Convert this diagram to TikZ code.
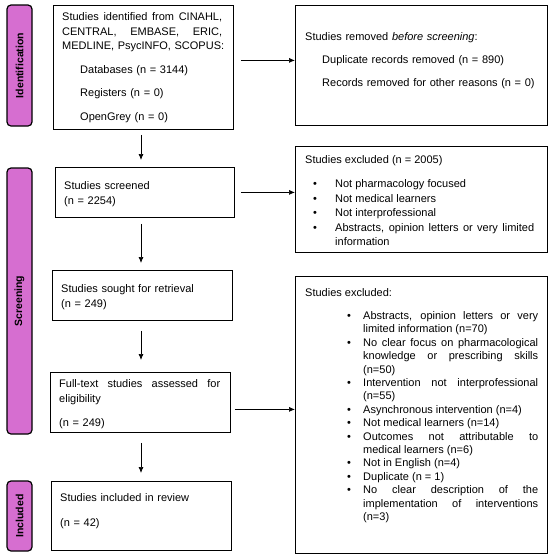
\documentclass[tikz,border=0pt]{standalone}
\usepackage{fontspec}
\setmainfont{Liberation Sans}
\usetikzlibrary{arrows.meta}
\definecolor{phasefill}{RGB}{214,110,208}
\newcommand\pbullet[3]{\par\noindent\hangindent=#2\hangafter=1\hspace*{#1}\makebox[\dimexpr#2-#1\relax][l]{\textbullet}#3}
\hyphenpenalty=10000
\exhyphenpenalty=10000
\begin{document}
\begin{tikzpicture}[x=1pt,y=-1pt,
  box/.style={draw=black, line width=0.8pt, anchor=north west, inner sep=0pt},
  phase/.style={draw=black, line width=1.2pt, fill=phasefill, rounded corners=4pt, inner sep=0pt, rotate=90, font=\bfseries\fontsize{10.5}{12}\selectfont},
  txt/.style={anchor=base west, inner sep=0pt, align=justify, font=\fontsize{11}{14.5}\selectfont},
  arr/.style={-{Latex[length=6pt,width=5pt]}, line width=0.7pt}]
\useasboundingbox (0,0) rectangle (550,558);
\fill[white] (0,0) rectangle (550,558);
\coordinate (axis) at (141,0);
% phase labels
\node[phase, minimum width=121pt, minimum height=25pt] (pid) at (19.5,65.5) {Identification};
\node[phase, minimum width=266pt, minimum height=25pt] (pscr) at (19.5,301) {Screening};
\node[phase, minimum width=70pt, minimum height=25pt] (pinc) at (19.5,516) {Included};
% boxes
\node[box, minimum width=180pt, minimum height=124pt] (b1) at (53,5) {};
\node[txt, text width=162pt, align=left] (b1t) at (62,20.5) {\makebox[160pt][l]{Studies\hfill identified\hfill from\hfill CINAHL,}\\
\makebox[160pt][l]{CENTRAL,\hfill EMBASE,\hfill ERIC,}\\
MEDLINE, PsycINFO, SCOPUS:\\[9pt]
\hspace*{18pt}Databases (n = 3144)\\[9pt]
\hspace*{18pt}Registers (n = 0)\\[9pt]
\hspace*{18pt}OpenGrey (n = 0)};

\node[box, minimum width=252pt, minimum height=120pt] (rem) at (295,5) {};
\node[txt, text width=235pt, align=left] (remt) at (305,40.5) {Studies removed \emph{before screening}:\\[8.5pt]
\hspace*{17pt}Duplicate records removed (n = 890)\\[8.5pt]
\hspace*{17pt}Records removed for other reasons (n = 0)};

\node[box, minimum width=179pt, minimum height=50pt] (scr) at (55,167) {};
\node[txt, text width=160pt, align=left] (scrt) at (64,189.5) {Studies screened\\(n = 2254)};

\node[box, minimum width=252pt, minimum height=106pt] (ex2) at (295,146) {};
\node[txt, text width=229pt] (ex2t) at (305,163.5) {Studies excluded (n = 2005)\par\vspace{9.5pt}
\pbullet{8pt}{30pt}{Not pharmacology focused}
\pbullet{8pt}{30pt}{Not medical learners}
\pbullet{8pt}{30pt}{Not interprofessional}
\pbullet{8pt}{30pt}{Abstracts, opinion letters or very limited information}\par};

\node[box, minimum width=180pt, minimum height=50pt] (sou) at (52,270) {};
\node[txt, text width=160pt, align=left] (sout) at (61,292.5) {Studies sought for retrieval\\(n = 249)};

\node[box, minimum width=180pt, minimum height=60pt] (ful) at (50,372) {};
\node[txt, text width=161pt, align=left] (fult) at (59,387.5) {\makebox[161pt][l]{Full-text\hfill studies\hfill assessed\hfill for}\\
eligibility\\[9.5pt]
(n = 249)};

\node[box, minimum width=252pt, minimum height=277pt] (ex3) at (295,276) {};
\node[txt, text width=233pt, font=\fontsize{11}{13.4}\selectfont] (ex3t) at (305,296.5) {Studies excluded:\par\vspace{9.6pt}
\pbullet{42pt}{58pt}{Abstracts, opinion letters or very \linebreak limited information (n=70)}
\pbullet{42pt}{58pt}{No clear focus on pharmacological \linebreak knowledge or prescribing skills \linebreak (n=50)}
\pbullet{42pt}{58pt}{Intervention not interprofessional \linebreak (n=55)}
\pbullet{42pt}{58pt}{Asynchronous intervention (n=4)}
\pbullet{42pt}{58pt}{Not medical learners (n=14)}
\pbullet{42pt}{58pt}{Outcomes not attributable to \linebreak medical learners (n=6)}
\pbullet{42pt}{58pt}{Not in English (n=4)}
\pbullet{42pt}{58pt}{Duplicate (n = 1)}
\pbullet{42pt}{58pt}{No clear description of the \linebreak implementation of interventions \linebreak (n=3)}\par};

\node[box, minimum width=180pt, minimum height=69pt] (inc) at (51,481) {};
\node[txt, text width=161pt, align=left] (inct) at (60,501.5) {Studies included in review\\[10.5pt](n = 42)};

% connectors
\draw[arr, shorten <=7pt] ([yshift=7pt]b1.east) -- ([yshift=7pt]b1.east -| rem.west);
\draw[arr, shorten <=6pt] (scr.east) -- (scr.east -| ex2.west);
\draw[arr, shorten <=4pt] ([yshift=-7pt]ful.east) -- ([yshift=-7pt]ful.east -| ex3.west);
\draw[arr, shorten <=5pt, shorten >=7pt] (b1.south -| axis) -- (scr.north -| axis);
\draw[arr, shorten <=6pt, shorten >=7pt] (scr.south -| axis) -- (sou.north -| axis);
\draw[arr, shorten <=10pt, shorten >=12pt] (sou.south -| axis) -- (ful.north -| axis);
\draw[arr, shorten <=10pt, shorten >=8pt] (ful.south -| axis) -- (inc.north -| axis);
\end{tikzpicture}
\end{document}
